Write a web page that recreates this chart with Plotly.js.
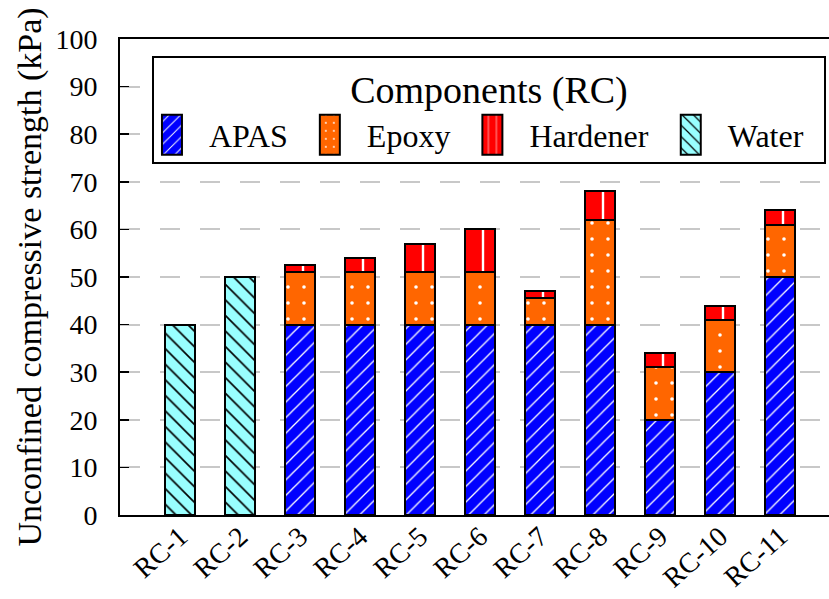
<!DOCTYPE html>
<html>
<head>
<meta charset="utf-8">
<script src="https://cdn.plot.ly/plotly-3.0.1.min.js"></script>
<style>
  html, body { margin: 0; padding: 0; background: #fff; overflow: hidden; width: 829px; height: 599px; }
  #chart { width: 850px; height: 599px; }
</style>
</head>
<body>
<div id="chart"></div>
<script>
// Mix designs
const categories = ['RC-1', 'RC-2', 'RC-3', 'RC-4', 'RC-5', 'RC-6', 'RC-7', 'RC-8', 'RC-9', 'RC-10', 'RC-11'];

// Stacked contributions to unconfined compressive strength (kPa)
const apas     = [null, null, 40, 40, 40, 40, 40,  40, 20, 30, 50];
const epoxy    = [null, null, 11, 11, 11, 11, 5.5, 22, 11, 11, 11];
const hardener = [null, null, 1.5, 3, 6, 9, 1.5,  6,  3,  3,  3];
const water    = [40, 50, null, null, null, null, null, null, null, null, null];

const yTicks = [0, 10, 20, 30, 40, 50, 60, 70, 80, 90, 100];

const FONT = '"Liberation Serif", "Times New Roman", serif';
const outline = { color: '#000000', width: 2 };

function barTrace(name, values, color, pattern) {
  return {
    type: 'bar',
    name: name,
    x: categories,
    y: values,
    width: 0.5,
    marker: {
      color: color,
      line: outline,
      pattern: Object.assign({ fillmode: 'replace', bgcolor: color }, pattern)
    },
    hoverinfo: 'x+y+name'
  };
}

const traces = [
  barTrace('APAS', apas, '#0000FF', { shape: '/', fgcolor: '#FFFFFF', size: 11, solidity: 0.12 }),
  barTrace('Epoxy', epoxy, '#FF6600', { shape: '.', fgcolor: '#FFFFFF', size: 16, solidity: 0.04 }),
  barTrace('Hardener', hardener, '#FF0000', { shape: '|', fgcolor: '#FFFFFF', size: 30, solidity: 0.08 }),
  barTrace('Water', water, '#99FFFF', { shape: '\\', fgcolor: '#000000', size: 11, solidity: 0.15 })
];

// The plotting frame runs on past the right edge of the visible page
const layout = {
  width: 850,
  height: 599,
  margin: { l: 120, r: 10, t: 39, b: 84, pad: 0 },
  paper_bgcolor: '#FFFFFF',
  plot_bgcolor: '#FFFFFF',
  barmode: 'stack',
  font: { family: FONT, color: '#000000', size: 28 },
  showlegend: true,
  legend: {
    orientation: 'h',
    x: 0.0444, xanchor: 'left',
    y: 0.964, yanchor: 'top',
    bgcolor: '#FFFFFF',
    bordercolor: '#000000',
    borderwidth: 2,
    itemwidth: 64,
    font: { family: FONT, size: 32, color: '#000000' },
    title: { text: 'Components (RC)', side: 'top center', font: { family: FONT, size: 38, color: '#000000' } },
    traceorder: 'normal'
  },
  xaxis: {
    type: 'category',
    categoryorder: 'array',
    categoryarray: categories,
    range: [-1, 11],
    showgrid: false,
    zeroline: false,
    showline: true,
    linecolor: '#000000',
    linewidth: 2,
    mirror: true,
    ticks: '',
    tickangle: -42,
    tickfont: { family: FONT, size: 28, color: '#000000' },
    automargin: false,
    fixedrange: true
  },
  yaxis: {
    range: [0, 100],
    tickvals: yTicks,
    ticktext: yTicks.map(String),
    showgrid: true,
    gridcolor: '#C8C8C8',
    gridwidth: 2,
    griddash: '20px,20px',
    zeroline: false,
    showline: true,
    linecolor: '#000000',
    linewidth: 2,
    ticks: 'inside',
    ticklen: 9,
    tickwidth: 1.5,
    tickcolor: '#000000',
    ticklabelstandoff: 15,
    tickfont: { family: FONT, size: 28, color: '#000000' },
    title: { text: 'Unconfined compressive strength (kPa)', font: { family: FONT, size: 34, color: '#000000' }, standoff: 4 },
    automargin: false,
    fixedrange: true
  }
};

function nudge(el, dx, dy) {
  const t = el.getAttribute('transform') || '';
  el.setAttribute('transform', (t + ' translate(' + dx + ',' + dy + ')').trim());
}

Plotly.newPlot('chart', traces, layout, { displayModeBar: false, staticPlot: true }).then(function (gd) {
  const legend = gd.querySelector('.legend');
  if (legend) {
    // Tall rectangular swatches
    legend.querySelectorAll('.legendpoints path').forEach(function (p) {
      p.setAttribute('d', 'M10,20H-10V-20H10Z');
    });
    // Tighter left inset for the entries, narrower frame, raised title
    legend.querySelectorAll('g.traces').forEach(function (g) { nudge(g, -19, 0); });
    const bg = legend.querySelector('rect.bg');
    if (bg) bg.setAttribute('width', parseFloat(bg.getAttribute('width')) - 4);
    const title = legend.querySelector('.legendtitletext');
    if (title) nudge(title, -2, -5);
  }
  // Slanted category labels sit a little closer to the axis
  gd.querySelectorAll('g.xtick').forEach(function (g) { nudge(g, 0, -8); });
  // Shift the hardener stripe so each bar carries one line off-centre
  const hardenerBars = gd.querySelectorAll('.barlayer .trace')[2];
  if (hardenerBars) {
    const seen = {};
    hardenerBars.querySelectorAll('path').forEach(function (p) {
      const m = (p.getAttribute('style') || '').match(/url\(['"]?#([^'")]+)['"]?\)/);
      if (m && !seen[m[1]]) {
        seen[m[1]] = true;
        const pat = document.getElementById(m[1]);
        if (pat) pat.setAttribute('patternTransform', 'translate(18,0)');
      }
    });
  }
});
</script>
</body>
</html>
